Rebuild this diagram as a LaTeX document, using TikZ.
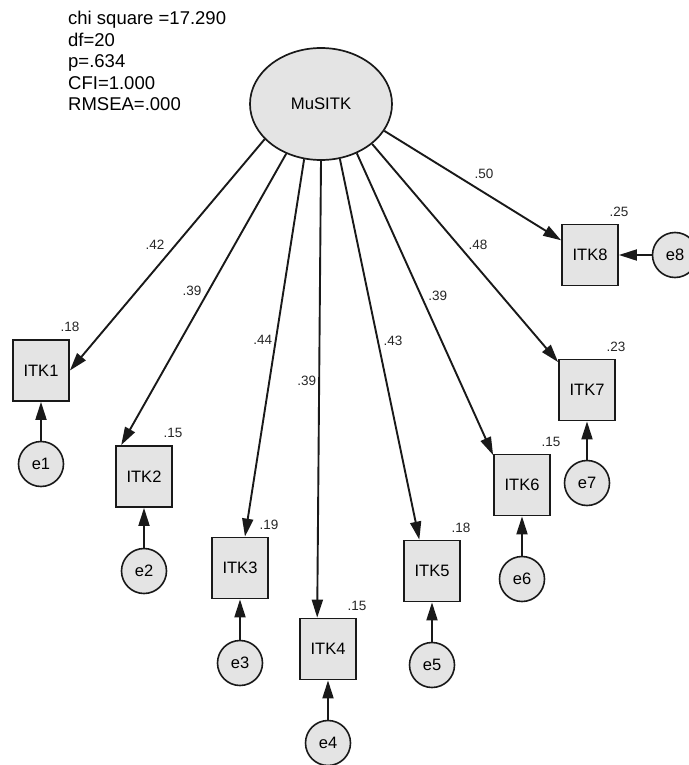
\documentclass[tikz,border=0pt]{standalone}
\usepackage{fontspec}
\setmainfont{Liberation Sans}
\usetikzlibrary{arrows.meta,shapes.geometric}
\definecolor{nodefill}{RGB}{228,228,228}
\definecolor{edgecol}{RGB}{25,25,25}
\begin{document}
\begin{tikzpicture}[x=1pt,y=-1pt,
  obsbox/.style={rectangle,draw=edgecol,line width=1.8pt,fill=nodefill,
    minimum width=56pt,minimum height=61pt,inner sep=0pt,
    font=\fontsize{16.5}{18}\selectfont},
  errnode/.style={circle,draw=edgecol,line width=1.6pt,fill=nodefill,
    minimum size=45pt,inner sep=0pt,font=\fontsize{16.5}{18}\selectfont},
  latnode/.style={ellipse,draw=edgecol,line width=1.7pt,fill=nodefill,
    minimum width=142pt,minimum height=112pt,inner sep=0pt,
    font=\fontsize{16.7}{18}\selectfont},
  patharrow/.style={draw=edgecol,line width=1.9pt,
    -{Triangle[length=18pt,width=11pt]}},
  coef/.style={inner sep=0pt,font=\fontsize{13.5}{15}\selectfont,text=black!85},
  fitline/.style={inner sep=0pt,anchor=base west,font=\fontsize{18.5}{21}\selectfont}
]
\useasboundingbox (0,0) rectangle (688,765);

% fit statistics
\node[fitline] (fit1) at (68,25)    {chi square =17.290};
\node[fitline] (fit2) at (68,46.4)  {df=20};
\node[fitline] (fit3) at (68,67.8)  {p=.634};
\node[fitline] (fit4) at (68,89.3)  {CFI=1.000};
\node[fitline] (fit5) at (68,110.7) {RMSEA=.000};

% latent
\node[latnode] (mu) at (321,104) {MuSITK};

% observed
\node[obsbox] (itk1) at (41,370.5) {ITK1};
\node[obsbox] (itk2) at (144,476.5) {ITK2};
\node[obsbox] (itk3) at (240,568) {ITK3};
\node[obsbox] (itk4) at (328,649) {ITK4};
\node[obsbox] (itk5) at (432,571) {ITK5};
\node[obsbox] (itk6) at (522,485) {ITK6};
\node[obsbox] (itk7) at (587,390) {ITK7};
\node[obsbox] (itk8) at (590,255) {ITK8};

% errors
\node[errnode] (e1) at (41,464) {e1};
\node[errnode] (e2) at (144,571) {e2};
\node[errnode] (e3) at (240,663) {e3};
\node[errnode] (e4) at (328,743) {e4};
\node[errnode] (e5) at (432,665) {e5};
\node[errnode] (e6) at (522,579) {e6};
\node[errnode] (e7) at (587,483) {e7};
\node[errnode] (e8) at (675,255) {e8};

% loadings
\draw[patharrow] (mu.212.7) -- (itk1.east);
\draw[patharrow] (mu.235)   -- (itk2.126);
\draw[patharrow] (mu.253.8) -- (itk3.81);
\draw[patharrow] (mu.270)   -- (itk4.109);
\draw[patharrow] (mu.289)   -- (itk5.112);
\draw[patharrow] (mu.306.5) -- (itk6.134);
\draw[patharrow] (mu.322.6) -- (itk7.136);
\draw[patharrow] (mu.337)   -- (itk8.153);

% error paths
\draw[patharrow] (e1) -- (itk1);
\draw[patharrow] (e2) -- (itk2);
\draw[patharrow] (e3) -- (itk3);
\draw[patharrow] (e4) -- (itk4);
\draw[patharrow] (e5) -- (itk5);
\draw[patharrow] (e6) -- (itk6);
\draw[patharrow] (e7) -- (itk7);
\draw[patharrow] (e8) -- (itk8);

% loading labels
\node[coef] (l1) at (155,245)   {.42};
\node[coef] (l2) at (192,291)   {.39};
\node[coef] (l3) at (262.7,340) {.44};
\node[coef] (l4) at (306.7,381) {.39};
\node[coef] (l5) at (393,340.7) {.43};
\node[coef] (l6) at (437.7,296) {.39};
\node[coef] (l7) at (478,245)   {.48};
\node[coef] (l8) at (484,174)   {.50};

% squared multiple correlations
\node[coef] (r1) at ([yshift=12pt]itk1.north east) {.18};
\node[coef] (r2) at ([yshift=12pt]itk2.north east) {.15};
\node[coef] (r3) at ([yshift=12pt]itk3.north east) {.19};
\node[coef] (r4) at ([yshift=12pt]itk4.north east) {.15};
\node[coef] (r5) at ([yshift=12pt]itk5.north east) {.18};
\node[coef] (r6) at ([yshift=12pt]itk6.north east) {.15};
\node[coef] (r7) at ([yshift=12pt]itk7.north east) {.23};
\node[coef] (r8) at ([yshift=12pt]itk8.north east) {.25};
\end{tikzpicture}
\end{document}
